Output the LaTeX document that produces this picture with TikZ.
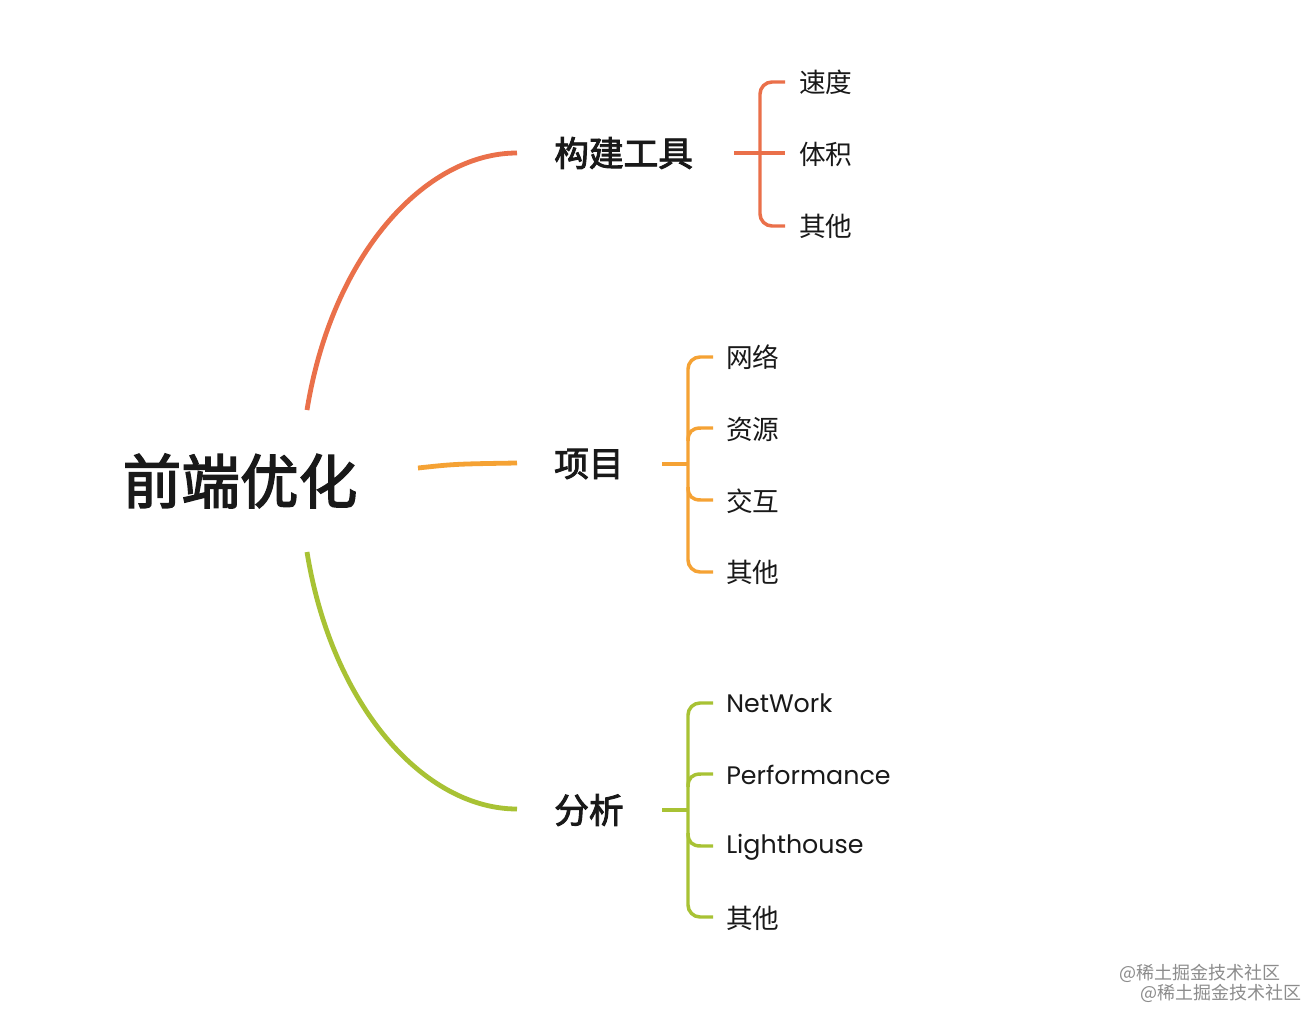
\documentclass[tikz,border=0pt]{standalone}
\usepackage{fontspec}
\setmainfont{Poppins}
\newfontfamily\cjk{Noto Sans CJK SC}
\newfontfamily\cjkm{Noto Sans CJK SC}[FakeBold=2.6]
\definecolor{cred}{RGB}{234,112,74}
\definecolor{corange}{RGB}{245,162,52}
\definecolor{cgreen}{RGB}{168,194,52}
\definecolor{ctext}{RGB}{25,25,25}
\tikzset{
  rootnode/.style={inner sep=0pt, text=ctext, font=\cjkm\fontsize{44}{50}\selectfont},
  topicnode/.style={inner sep=0pt, anchor=west, text=ctext, font=\cjkm\fontsize{26}{30}\selectfont},
  leafnode/.style={inner sep=0pt, anchor=west, text=ctext, font=\cjk\fontsize{20}{24}\selectfont},
  latinleaf/.style={inner sep=0pt, anchor=west, text=ctext, font=\fontsize{19}{24}\selectfont},
  mainline/.style={line width=3.6pt, line cap=butt},
  brline/.style={line width=2.6pt, line cap=butt, rounded corners=9pt},
  twig/.style={line width=2.6pt, line cap=butt},
  wmnode/.style={inner sep=0pt, anchor=west, text=black!45, font=\cjk\fontsize{13.5}{15}\selectfont}
}
\begin{document}
\begin{tikzpicture}[x=0.75pt,y=-0.75pt]
\useasboundingbox[fill=white] (0,0) rectangle (1306,1010);

% root and topics
\node[rootnode] (root) at (240,481) {前端优化};
\node[topicnode] (build) at (554,153) {构建工具};
\node[topicnode] (proj) at (554,464) {项目};
\node[topicnode] (ana) at (554,810) {分析};

% connector ends
\coordinate (rs) at (307,410);
\coordinate (os) at (418,468);
\coordinate (gs) at (307,552);
\coordinate (re) at (517,153);
\coordinate (oe) at (517,463);
\coordinate (ge) at (517,809);

\draw[mainline, cred] (rs) .. controls (332,255) and (425,153) .. (re);
\draw[mainline, corange] (os) .. controls (455,464) .. (oe);
\draw[mainline, cgreen] (gs) .. controls (332,707) and (425,809) .. (ge);

% leaves of build
\node[leafnode] (b1) at (799,82) {速度};
\node[leafnode] (b2) at (799,154) {体积};
\node[leafnode] (b3) at (799,226) {其他};
\coordinate (bs) at (734,153);
\draw[brline, cred] (785,82) -- (760,82) -- (760,226) -- (785,226);
\draw[twig, cred] (bs) -- (785,153);

% leaves of project
\node[leafnode] (p1) at (726,357) {网络};
\node[leafnode] (p2) at (726,429) {资源};
\node[leafnode] (p3) at (726,501) {交互};
\node[leafnode] (p4) at (726,572) {其他};
\coordinate (ps) at (662,464);
\draw[brline, corange] (713,357) -- (688,357) -- (688,572) -- (713,572);
\draw[twig, corange] (688,441) .. controls (688,432) and (692,428) .. (701,428) -- (713,428);
\draw[twig, corange] (688,487) .. controls (688,496) and (692,500) .. (701,500) -- (713,500);
\draw[twig, corange] (ps) -- (688,464);

% leaves of analysis
\node[latinleaf] (a1) at (726,703) {NetWork};
\node[latinleaf] (a2) at (726,775) {Performance};
\node[latinleaf] (a3) at (726,847) {Lighthouse};
\node[leafnode] (a4) at (726,918) {其他};
\coordinate (as) at (662,810);
\draw[brline, cgreen] (713,703) -- (688,703) -- (688,917) -- (713,917);
\draw[twig, cgreen] (688,787) .. controls (688,778) and (692,774) .. (701,774) -- (713,774);
\draw[twig, cgreen] (688,833) .. controls (688,842) and (692,846) .. (701,846) -- (713,846);
\draw[twig, cgreen] (as) -- (688,810);

% watermark
\node[wmnode] (wm1) at (1119,973) {@稀土掘金技术社区};
\node[wmnode] (wm2) at (1140,993) {@稀土掘金技术社区};
\end{tikzpicture}
\end{document}
